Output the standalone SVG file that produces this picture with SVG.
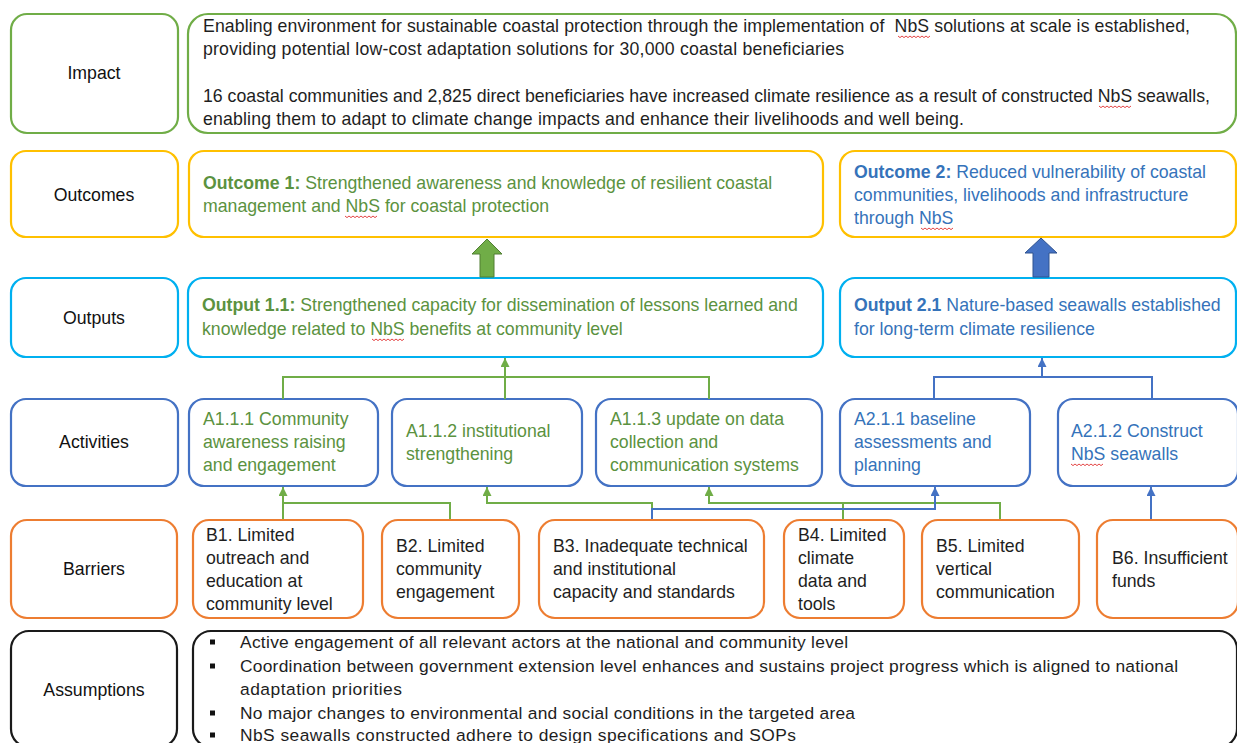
<svg xmlns="http://www.w3.org/2000/svg" xmlns:xlink="http://www.w3.org/1999/xlink" width="1237" height="743" viewBox="0 0 1237 743">
<style>
rect.bx{fill:#fff;stroke-width:2.2}
.gr{stroke:#70AD47}
.ye{stroke:#FFC000}
.cy{stroke:#00B0F0}
.bl{stroke:#4472C4}
.or{stroke:#ED7D31}
.bk{stroke:#1a1a1a}
text{font-family:"Liberation Sans",Arial,sans-serif;font-size:17.7px}
.lab{fill:#111;text-anchor:middle}
.tk{fill:#1e1e1e}
.tg{fill:#5B9240}
.tb{fill:#3573BA}
.as{font-size:17.4px;fill:#1e1e1e}
.bold{font-weight:bold}
.cg{fill:none;stroke:#70AD47;stroke-width:2}
.cb{fill:none;stroke:#4472C4;stroke-width:2}
.sq{fill:none;stroke:#E03030;stroke-width:0.9}
</style>
<defs>
<marker id="ag" viewBox="0 0 10 10" refX="10" refY="5" markerWidth="9" markerHeight="9" markerUnits="userSpaceOnUse" orient="auto"><path d="M0,0 L10,5 L0,10 z" fill="#70AD47"/></marker>
<marker id="ab" viewBox="0 0 10 10" refX="10" refY="5" markerWidth="9" markerHeight="9" markerUnits="userSpaceOnUse" orient="auto"><path d="M0,0 L10,5 L0,10 z" fill="#4472C4"/></marker>
<path id="sqp" d="M0,0 l2,1.6 l2,-1.6 l2,1.6 l2,-1.6 l2,1.6 l2,-1.6 l2,1.6 l2,-1.6 l2,1.6 l2,-1.6 l2,1.6 l2,-1.6 l2,1.6 l2,-1.6 l2,1.6 l2,-1.6"/>
</defs>

<g id="row-labels">
<g id="lbl-impact"><rect class="bx gr" x="11" y="14" width="167" height="119" rx="16"/><text class="lab" x="94" y="79">Impact</text></g>
<g id="lbl-outcomes"><rect class="bx ye" x="11" y="151" width="167" height="86" rx="15"/><text class="lab" x="94" y="201">Outcomes</text></g>
<g id="lbl-outputs"><rect class="bx cy" x="11" y="278" width="167" height="79" rx="15"/><text class="lab" x="94" y="324">Outputs</text></g>
<g id="lbl-activities"><rect class="bx bl" x="11" y="399" width="167" height="87" rx="15"/><text class="lab" x="94" y="448">Activities</text></g>
<g id="lbl-barriers"><rect class="bx or" x="11" y="520" width="166" height="98" rx="16"/><text class="lab" x="94" y="575">Barriers</text></g>
<g id="lbl-assumptions"><rect class="bx bk" x="11" y="631" width="166" height="116" rx="18"/><text class="lab" x="94" y="696">Assumptions</text></g>
</g>

<g id="impact">
<rect class="bx gr" x="188" y="14" width="1048" height="119" rx="20"/>
<text class="tk" x="203" y="32" style="white-space:pre" textLength="987">Enabling environment for sustainable coastal protection through the implementation of  NbS solutions at scale is established,</text>
<text class="tk" x="203" y="55" textLength="641">providing potential low-cost adaptation solutions for 30,000 coastal beneficiaries</text>
<text class="tk" x="203" y="102" textLength="1007">16 coastal communities and 2,825 direct beneficiaries have increased climate resilience as a result of constructed NbS seawalls,</text>
<text class="tk" x="203" y="125" textLength="761">enabling them to adapt to climate change impacts and enhance their livelihoods and well being.</text>
</g>

<g id="outcome1">
<rect class="bx ye" x="189" y="151" width="634" height="86" rx="15"/>
<text class="tg" x="203" y="189"><tspan class="bold">Outcome 1:</tspan> Strengthened awareness and knowledge of resilient coastal</text>
<text class="tg" x="203" y="212">management and NbS for coastal protection</text>
</g>

<g id="outcome2">
<rect class="bx ye" x="840" y="151" width="396" height="86" rx="15"/>
<text class="tb" x="854" y="178"><tspan class="bold">Outcome 2:</tspan> Reduced vulnerability of coastal</text>
<text class="tb" x="854" y="201">communities, livelihoods and infrastructure</text>
<text class="tb" x="854" y="224">through NbS</text>
</g>

<g id="output11">
<rect class="bx cy" x="188" y="278" width="635" height="79" rx="15"/>
<text class="tg" x="202" y="311"><tspan class="bold">Output 1.1:</tspan> Strengthened capacity for dissemination of lessons learned and</text>
<text class="tg" x="202" y="335">knowledge related to NbS benefits at community level</text>
</g>

<g id="output21">
<rect class="bx cy" x="840" y="278" width="396" height="79" rx="15"/>
<text class="tb" x="854" y="311"><tspan class="bold">Output 2.1</tspan> Nature-based seawalls established</text>
<text class="tb" x="854" y="335">for long-term climate resilience</text>
</g>

<g id="a111">
<rect class="bx bl" x="189" y="399" width="189" height="87" rx="15"/>
<text class="tg" x="203" y="425">A1.1.1 Community</text>
<text class="tg" x="203" y="448">awareness raising</text>
<text class="tg" x="203" y="471">and engagement</text>
</g>
<g id="a112">
<rect class="bx bl" x="392" y="399" width="190" height="87" rx="15"/>
<text class="tg" x="406" y="437">A1.1.2 institutional</text>
<text class="tg" x="406" y="460">strengthening</text>
</g>
<g id="a113">
<rect class="bx bl" x="596" y="399" width="226" height="87" rx="15"/>
<text class="tg" x="610" y="425">A1.1.3 update on data</text>
<text class="tg" x="610" y="448">collection and</text>
<text class="tg" x="610" y="471">communication systems</text>
</g>
<g id="a211">
<rect class="bx bl" x="840" y="399" width="190" height="87" rx="15"/>
<text class="tb" x="854" y="425">A2.1.1 baseline</text>
<text class="tb" x="854" y="448">assessments and</text>
<text class="tb" x="854" y="471">planning</text>
</g>
<g id="a212">
<rect class="bx bl" x="1058" y="399" width="180" height="87" rx="15"/>
<text class="tb" x="1071" y="437">A2.1.2 Construct</text>
<text class="tb" x="1071" y="460">NbS seawalls</text>
</g>

<g id="b1">
<rect class="bx or" x="193" y="520" width="170" height="98" rx="16"/>
<text class="tk" x="206" y="541">B1. Limited</text>
<text class="tk" x="206" y="564">outreach and</text>
<text class="tk" x="206" y="587">education at</text>
<text class="tk" x="206" y="610">community level</text>
</g>
<g id="b2">
<rect class="bx or" x="382" y="520" width="137" height="98" rx="16"/>
<text class="tk" x="396" y="552">B2. Limited</text>
<text class="tk" x="396" y="575">community</text>
<text class="tk" x="396" y="598">engagement</text>
</g>
<g id="b3">
<rect class="bx or" x="539" y="520" width="225" height="98" rx="16"/>
<text class="tk" x="553" y="552">B3. Inadequate technical</text>
<text class="tk" x="553" y="575">and institutional</text>
<text class="tk" x="553" y="598">capacity and standards</text>
</g>
<g id="b4">
<rect class="bx or" x="784" y="520" width="120" height="98" rx="16"/>
<text class="tk" x="798" y="541">B4. Limited</text>
<text class="tk" x="798" y="564">climate</text>
<text class="tk" x="798" y="587">data and</text>
<text class="tk" x="798" y="610">tools</text>
</g>
<g id="b5">
<rect class="bx or" x="922" y="520" width="157" height="98" rx="16"/>
<text class="tk" x="936" y="552">B5. Limited</text>
<text class="tk" x="936" y="575">vertical</text>
<text class="tk" x="936" y="598">communication</text>
</g>
<g id="b6">
<rect class="bx or" x="1097" y="520" width="141" height="98" rx="16"/>
<text class="tk" x="1112" y="564">B6. Insufficient</text>
<text class="tk" x="1112" y="587">funds</text>
</g>

<g id="assumptions">
<rect class="bx bk" x="193" y="631" width="1044" height="116" rx="18"/>
<rect x="210" y="639.5" width="5" height="5" fill="#111"/>
<rect x="210" y="663.5" width="5" height="5" fill="#111"/>
<rect x="210" y="710.5" width="5" height="5" fill="#111"/>
<rect x="210" y="732.5" width="5" height="5" fill="#111"/>
<text class="as" x="240" y="648" textLength="608">Active engagement of all relevant actors at the national and community level</text>
<text class="as" x="240" y="672" textLength="938">Coordination between government extension level enhances and sustains project progress which is aligned to national</text>
<text class="as" x="240" y="695" textLength="162">adaptation priorities</text>
<text class="as" x="240" y="719" textLength="615">No major changes to environmental and social conditions in the targeted area</text>
<text class="as" x="240" y="741" textLength="556">NbS seawalls constructed adhere to design specifications and SOPs</text>
</g>

<g id="connectors">
<polygon points="487,239 472,254 480,254 480,277 494,277 494,254 502,254" fill="#70AD47" stroke="#507E32" stroke-width="1"/>
<polygon points="1041,238 1025,253 1033,253 1033,277 1049,277 1049,253 1057,253" fill="#4472C4" stroke="#2F528F" stroke-width="1"/>
<path class="cg" d="M283,399 V377 H709 V399"/>
<path class="cg" d="M505,399 V358" marker-end="url(#ag)"/>
<path class="cg" d="M283,519 V487" marker-end="url(#ag)"/>
<path class="cg" d="M283,503 H450 V519"/>
<path class="cg" d="M652,509 V503 H487 V487" marker-end="url(#ag)"/>
<path class="cg" d="M1000,519 V503 H709 V487" marker-end="url(#ag)"/>
<path class="cg" d="M843,503 V519"/>
<path class="cb" d="M934,399 V377 H1152 V399"/>
<path class="cb" d="M1042,377 V358" marker-end="url(#ab)"/>
<path class="cb" d="M652,519 V509 H935 V487" marker-end="url(#ab)"/>
<path class="cb" d="M1151,519 V487" marker-end="url(#ab)"/>
</g>

<g id="spellcheck-marks">
<use xlink:href="#sqp" class="sq" x="898" y="36"/>
<use xlink:href="#sqp" class="sq" x="1099" y="106"/>
<use xlink:href="#sqp" class="sq" x="345" y="216"/>
<use xlink:href="#sqp" class="sq" x="921" y="228"/>
<use xlink:href="#sqp" class="sq" x="372" y="339"/>
<use xlink:href="#sqp" class="sq" x="1071" y="464"/>
</g>
</svg>
